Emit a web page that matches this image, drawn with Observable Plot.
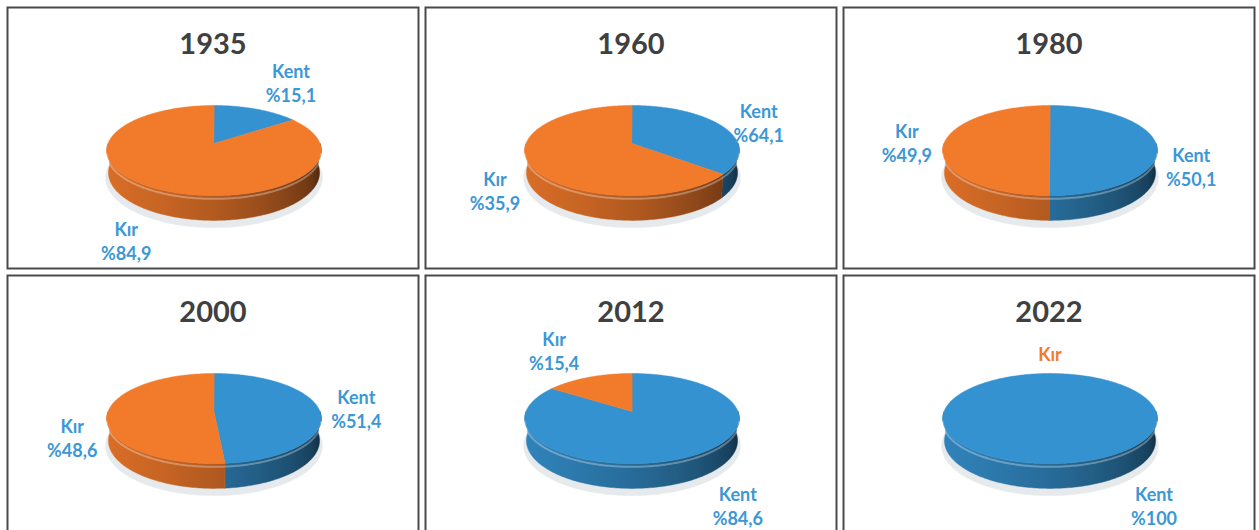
<!DOCTYPE html>
<html><head><meta charset="utf-8">
<script src="https://cdn.jsdelivr.net/npm/d3@7"></script>
<script src="https://cdn.jsdelivr.net/npm/@observablehq/plot@0.6"></script>
<style>
html,body{margin:0;padding:0;background:#fff;}
#chart{width:1259px;height:530px;overflow:hidden;}
#chart svg{overflow:hidden;}
</style></head><body><div id="chart"></div>
<script>
// ---- data ----
const years = ["1935", "1960", "1980", "2000", "2012", "2022"];
const categories = ["Kent", "Kır"];
const kentShare = [15.1, 35.9, 50.1, 48.6, 84.6, 100];   // slice sizes as drawn
const kirShare  = [84.9, 64.1, 49.9, 51.4, 15.4, 0];
const kentLabels = ["%15,1", "%64,1", "%50,1", "%51,4", "%84,6", "%100"];
const kirLabels  = ["%84,9", "%35,9", "%49,9", "%48,6", "%15,4", ""];

// ---- styling ----
const colors = {"Kent": "#3592d0", "Kır": "#f27a2b"};
const gradId = {"Kent": "wall-kent", "Kır": "wall-kir"};
const labelBlue = "#3c97d6";
const titleColor = "#404040";

// ---- layout ----
const W = 1259, H = 530, MT = 7, PANEL_H = 261, ROW_STEP = 268, APEX = 136;

// ---- 3D view ----
const R = 106, TILT = 24.5 * Math.PI / 180, DIST = 5.83, THICK = 0.23;
const sT = Math.sin(TILT), cT = Math.cos(TILT);
function proj(X, Y, Z) {
  const f = DIST / (DIST + Y * cT - Z * sT);
  return [R * X * f, -R * (Y * sT + Z * cT) * f];
}
const STEP = Math.PI / 180;
function arcPts(a0, a1, Z, r = 1) {
  const n = Math.max(1, Math.ceil(Math.abs(a1 - a0) / STEP));
  const pts = [];
  for (let k = 0; k <= n; k++) {
    const a = a0 + (a1 - a0) * k / n;
    pts.push(proj(r * Math.sin(a), r * Math.cos(a), Z));
  }
  return pts;
}
function shade(base, X) {
  const k = 0.28 + 0.62 * Math.pow(Math.max(0, (1 - X) / 2), 0.45);
  const c = d3.rgb(base);
  return d3.rgb(c.r * k, c.g * k, c.b * k).formatHex();
}
const rimPts = [...arcPts(0, 2 * Math.PI, 0), ...arcPts(0, 2 * Math.PI, -THICK)];

const ctx = document.createElement("canvas").getContext("2d");
ctx.font = "bold 18px Lato";
const LH = 24, CAP = 13, GAP = 12, G = 12;

const panels = years.map((year, i) => ({year, col: i % 3, row: Math.floor(i / 3), i}));
const pie = d3.pie().sort(null).value(d => d.value);
const polys = [], rims = [], labels = [];

for (const p of panels) {
  const i = p.i, fx = p.col, fy = p.row;
  // keep labels inside the panel and inside the visible picture
  const limit = Math.min(PANEL_H - APEX - 8, H - 5 - (MT + fy * ROW_STEP + APEX));
  const slices = pie([
    {cat: categories[0], value: kentShare[i], text: kentLabels[i]},
    {cat: categories[1], value: kirShare[i], text: kirLabels[i]}
  ]);
  // soft shadow under the pie
  for (const [x, y] of arcPts(0, 2 * Math.PI, -THICK - 0.05, 1.03)) polys.push({fx, fy, id: `${i}-s`, x, y, fill: "#e6eaec"});
  // side walls (front half only)
  for (const s of slices) {
    if (s.data.value <= 0) continue;
    const lo = Math.max(s.startAngle, Math.PI / 2), hi = Math.min(s.endAngle, 3 * Math.PI / 2);
    if (hi <= lo) continue;
    const pts = [...arcPts(lo, hi, 0), ...arcPts(hi, lo, -THICK)];
    for (const [x, y] of pts) polys.push({fx, fy, id: `${i}-w-${s.data.cat}`, x, y, fill: `url(#${gradId[s.data.cat]})`});
  }
  // top faces
  for (const s of slices) {
    if (s.data.value <= 0) continue;
    const pts = [[0, 0], ...arcPts(s.startAngle, s.endAngle, 0)];
    for (const [x, y] of pts) polys.push({fx, fy, id: `${i}-t-${s.data.cat}`, x, y, fill: colors[s.data.cat]});
  }
  // bevel highlight along the front rim
  for (const [x, y] of arcPts(100 * STEP, 260 * STEP, -0.03)) rims.push({fx, fy, id: `${i}-r`, x, y});

  // data labels, placed outside each slice's middle angle
  for (const s of slices) {
    const mid = (s.startAngle + s.endAngle) / 2;
    const X = Math.sin(mid), Y = Math.cos(mid);
    const A = proj(X, Y, Y < 0 ? -THICK : 0);
    const len = Math.hypot(A[0], A[1]);
    const ux = A[0] / len, uy = A[1] / len;
    const ax = A[0] + GAP * ux, ay = A[1] + GAP * uy;
    const lines = s.data.text ? [s.data.cat, s.data.text] : [s.data.cat];
    const w = Math.max(...lines.map(t => ctx.measureText(t).width));
    const h = lines.length === 2 ? CAP + LH : CAP;
    let left = ux > 0.35 ? ax : ux < -0.35 ? ax - w : ax - w / 2;
    let top = uy < -0.5 ? ay - h : uy > 0.5 ? ay : ay - h / 2;
    if (top + h > limit) {
      top = limit - h;
      const dir = ux >= -1e-6 ? 1 : -1;
      const hit = () => rimPts.some(([x, y]) => x >= left - G && x <= left + w + G && y >= top - G && y <= top + h + G);
      let guard = 0;
      while (hit() && guard++ < 300) left += dir;
    }
    labels.push({fx, fy, x: left + w / 2, y: top + h / 2 - 1.2, text: lines.join("\n"),
      fill: s.data.value > 0 ? labelBlue : colors[s.data.cat]});
  }
}

const chart = Plot.plot({
  width: W, height: H,
  marginTop: MT, marginLeft: 7, marginRight: 5, marginBottom: H - MT - (ROW_STEP + PANEL_H),
  fx: {domain: [0, 1, 2], paddingInner: 7 / 418, paddingOuter: 0, axis: null},
  fy: {domain: [0, 1], paddingInner: (ROW_STEP - PANEL_H) / ROW_STEP, paddingOuter: 0, axis: null},
  x: {domain: [-206.5, 204.5], axis: null},
  y: {domain: [-APEX, PANEL_H - APEX], reverse: true, axis: null},
  color: {type: "identity"},
  style: {fontFamily: "Lato, 'Open Sans', sans-serif", background: "white"},
  marks: [
    Plot.line(polys, {fx: "fx", fy: "fy", x: "x", y: "y", z: "id", fill: "fill", stroke: "fill", strokeWidth: 0.5, curve: "linear-closed"}),
    Plot.line(rims, {fx: "fx", fy: "fy", x: "x", y: "y", z: "id", stroke: "white", strokeOpacity: 0.3, strokeWidth: 2}),
    Plot.text(panels, {fx: "col", fy: "row", text: "year", frameAnchor: "top", dy: 46, lineAnchor: "bottom",
      fontSize: 29, fontWeight: 700, fill: titleColor}),
    Plot.text(labels, {fx: "fx", fy: "fy", x: "x", y: "y", text: "text", fill: "fill",
      fontSize: 18, fontWeight: 700, lineHeight: LH / 18, lineAnchor: "middle", textAnchor: "middle"}),
    Plot.frame({stroke: "#4a4a4a", strokeWidth: 2})
  ]
});

// horizontal light-to-dark gradients for the side walls (facet-local coordinates of the x scale)
const xs = chart.scale("x");
const defs = d3.select(chart).insert("defs", ":first-child");
for (const cat of categories) {
  const g = defs.append("linearGradient").attr("id", gradId[cat]).attr("gradientUnits", "userSpaceOnUse")
    .attr("x1", xs.apply(-1.03 * R)).attr("x2", xs.apply(1.03 * R)).attr("y1", 0).attr("y2", 0);
  for (let t = 0; t <= 1.0001; t += 0.05) {
    g.append("stop").attr("offset", t).attr("stop-color", shade(colors[cat], -1 + 2 * t));
  }
}
document.getElementById("chart").appendChild(chart);
</script></body></html>
